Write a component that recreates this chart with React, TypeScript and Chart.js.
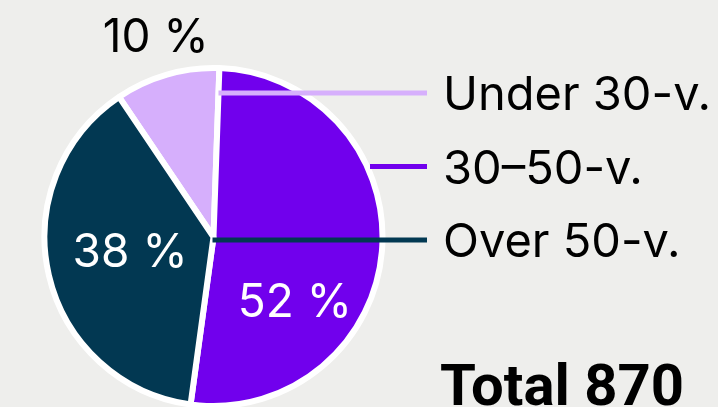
import React, { useEffect, useRef } from "react";
import { Chart, registerables } from "chart.js";

Chart.register(...registerables);

// ---- data ----
const categories = ["Under 30-v.", "30–50-v.", "Over 50-v."];
const counts = [87, 449, 334];
const totalPrefix = "Total";

// ---- styling ----
const BG = "#eeeeec";
const sliceColors = ["#D6AFFC", "#7100ED", "#023852"];
const pctTextColors = ["#000000", "#ffffff", "#ffffff"];
const pctRadiusFactor = [1.24, 0.61, 0.5];
const pctAngleShiftDeg = [0, 33, 4];

export default function App() {
  const ref = useRef<HTMLCanvasElement | null>(null);

  useEffect(() => {
    document.body.style.margin = "0";
    document.body.style.background = BG;
    const total = counts.reduce((a, b) => a + b, 0);

    const overlay = {
      id: "overlay",
      afterDatasetsDraw(chart: any) {
        const ctx = chart.ctx as CanvasRenderingContext2D;
        const arcs = chart.getDatasetMeta(0).data as any[];
        ctx.save();
        const legendSize = 47;
        const capLegend = legendSize * 0.727;
        const legendBase0 = 110;
        const legendStep = 73.5;
        const lineEnd = 427;
        const textX = 443;
        // legend rows with leader lines
        categories.forEach((cat, i) => {
          const arc = arcs[i];
          const baseline = legendBase0 + i * legendStep;
          const ly = baseline - capLegend / 2;
          const { x: cx, outerRadius: R } = arc.getProps(["x", "outerRadius"], true);
          let startX = cx;
          for (let x = cx + R; x >= cx - R; x -= 0.5) {
            if (arc.inRange(x, ly, true)) {
              startX = x;
              break;
            }
          }
          ctx.strokeStyle = sliceColors[i];
          ctx.lineWidth = 5;
          ctx.lineCap = "butt";
          ctx.beginPath();
          ctx.moveTo(startX, ly);
          ctx.lineTo(lineEnd, ly);
          ctx.stroke();

          ctx.fillStyle = "#000";
          ctx.font = `${legendSize}px Inter`;
          ctx.textAlign = "left";
          ctx.textBaseline = "alphabetic";
          ctx.fillText(cat, textX, baseline);
        });

        // percentage labels
        const pctSize = 46;
        arcs.forEach((arc: any, i: number) => {
          const p = arc.getProps(["x", "y", "startAngle", "endAngle", "outerRadius"], true);
          const mid = (p.startAngle + p.endAngle) / 2 + (pctAngleShiftDeg[i] * Math.PI) / 180;
          const r = p.outerRadius * pctRadiusFactor[i];
          const tx = p.x + Math.cos(mid) * r;
          const ty = p.y + Math.sin(mid) * r;
          const pct = Math.round((counts[i] / total) * 100);
          ctx.fillStyle = pctTextColors[i];
          ctx.font = `${pctSize}px Inter`;
          ctx.textAlign = "center";
          ctx.textBaseline = "alphabetic";
          ctx.fillText(`${pct} %`, tx, ty + (pctSize * 0.727) / 2);
        });

        // total
        ctx.fillStyle = "#000";
        ctx.font = "bold 58px Roboto";
        ctx.textAlign = "left";
        ctx.textBaseline = "alphabetic";
        ctx.fillText(`${totalPrefix} ${total}`, 440, 405);
        ctx.restore();
      },
    };

    const chart = new Chart(ref.current as HTMLCanvasElement, {
      type: "pie",
      data: {
        labels: categories,
        datasets: [
          {
            data: counts,
            backgroundColor: sliceColors,
            borderColor: "#ffffff",
            borderWidth: 6,
            hoverOffset: 0,
            radius: 169,
          } as any,
        ],
      },
      options: {
        animation: false,
        responsive: true,
        maintainAspectRatio: false,
        rotation: -34,
        layout: { padding: { left: 40, right: 331, top: 67, bottom: 0 } },
        plugins: {
          legend: { display: false },
          tooltip: { enabled: false },
        },
        events: [],
      } as any,
      plugins: [overlay],
    });
    return () => chart.destroy();
  }, []);

  return (
    <div style={{ width: 718, height: 407, position: "relative", background: BG }}>
      <canvas ref={ref} />
    </div>
  );
}
